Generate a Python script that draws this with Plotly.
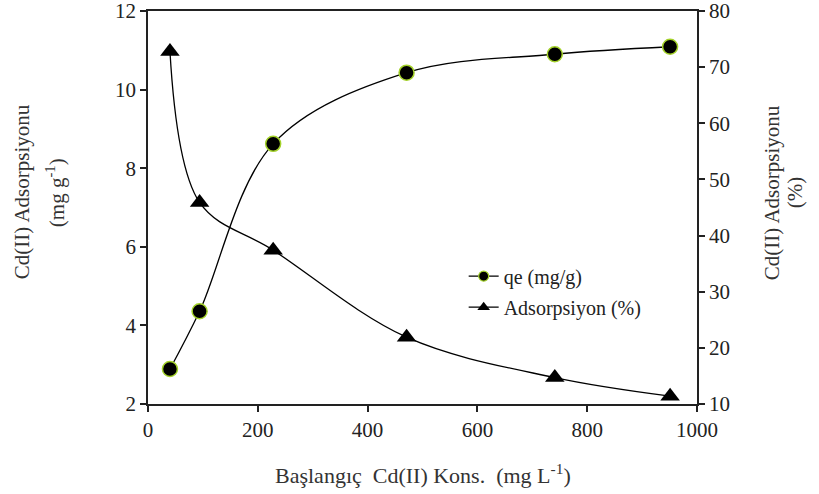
import plotly.graph_objects as go

# Initial Cd(II) concentration (mg/L)
conc = [40, 94, 228, 471, 741, 951]
# Adsorption capacity qe (mg/g)
qe = [2.89, 4.36, 8.62, 10.43, 10.90, 11.09]
# Removal efficiency (%)
removal = [72.8, 45.9, 37.4, 21.9, 14.7, 11.4]

FONT = "Times New Roman, Liberation Serif, DejaVu Serif, serif"
INK = "#222"
LIME = "#a4d22a"
SP = "\u00a0 "  # wide word gap in the axis title

line_style = dict(color="black", width=1.3, shape="spline", smoothing=1.0)

fig = go.Figure()
fig.add_trace(go.Scatter(
    x=conc, y=qe, name="qe (mg/g)", mode="lines+markers", showlegend=False,
    line=line_style,
    marker=dict(symbol="circle", size=15, color="black",
                line=dict(color=LIME, width=1.5)),
    yaxis="y",
))
fig.add_trace(go.Scatter(
    x=conc, y=removal, name="Adsorpsiyon (%)", mode="lines+markers",
    showlegend=False, line=line_style,
    marker=dict(symbol="triangle-up", size=17, color="black"),
    yaxis="y2",
))

# Legend entries with smaller symbols than the plotted markers
fig.add_trace(go.Scatter(
    x=[None], y=[None], name="qe (mg/g)", mode="lines+markers",
    legendgroup="qe", line=dict(color="black", width=1.3),
    marker=dict(symbol="circle", size=10, color="black",
                line=dict(color=LIME, width=1.2)),
))
fig.add_trace(go.Scatter(
    x=[None], y=[None], name="Adsorpsiyon (%)", mode="lines+markers",
    legendgroup="ads", line=dict(color="black", width=1.3),
    marker=dict(symbol="triangle-up", size=11, color="black"),
))

axis_common = dict(
    showgrid=False, zeroline=False, showline=True, linecolor=INK,
    linewidth=1.5, ticks="outside", tickcolor=INK, tickwidth=1.5,
    ticklen=6, automargin=False, ticklabeloverflow="allow",
    tickfont=dict(family=FONT, size=21, color=INK),
)

title_font = dict(family=FONT, size=21, color="#333")

fig.update_layout(
    width=819, height=494,
    margin=dict(l=148, r=122, t=11, b=90, autoexpand=False),
    paper_bgcolor="white", plot_bgcolor="white",
    font=dict(family=FONT, color=INK),
    showlegend=True,
    legend=dict(x=0.575, y=0.375, xanchor="left", yanchor="top",
                bgcolor="rgba(0,0,0,0)", font=dict(family=FONT, size=20, color=INK),
                itemwidth=30, tracegroupgap=2),
    xaxis=dict(range=[0, 1000], tickvals=[0, 200, 400, 600, 800, 1000],
               mirror=True, **axis_common),
    yaxis=dict(range=[2, 12], tickvals=[2, 4, 6, 8, 10, 12], **axis_common),
    yaxis2=dict(range=[10, 80], tickvals=[10, 20, 30, 40, 50, 60, 70, 80],
                overlaying="y", side="right", **axis_common),
    annotations=[
        dict(text=f"Başlangıç{SP}Cd(II) Kons.{SP}(mg L<sup>-1</sup>)",
             xref="paper", yref="paper", x=0.5, y=-0.177, yanchor="middle",
             showarrow=False, font=dict(family=FONT, size=22, color="#333")),
        dict(text="Cd(II) Adsorpsiyonu",
             xref="paper", yref="paper", x=-0.2295, y=0.539,
             xanchor="center", yanchor="middle",
             textangle=-90, showarrow=False, font=title_font),
        dict(text="(mg g<sup>-1</sup>)",
             xref="paper", yref="paper", x=-0.1694, y=0.539,
             xanchor="center", yanchor="middle",
             textangle=-90, showarrow=False, font=title_font),
        dict(text="Cd(II) Adsorpsiyonu",
             xref="paper", yref="paper", x=1.1366, y=0.539,
             xanchor="center", yanchor="middle",
             textangle=-90, showarrow=False, font=title_font),
        dict(text="(%)",
             xref="paper", yref="paper", x=1.1785, y=0.539,
             xanchor="center", yanchor="middle",
             textangle=-90, showarrow=False, font=title_font),
    ],
)

fig.write_html("out.html")
